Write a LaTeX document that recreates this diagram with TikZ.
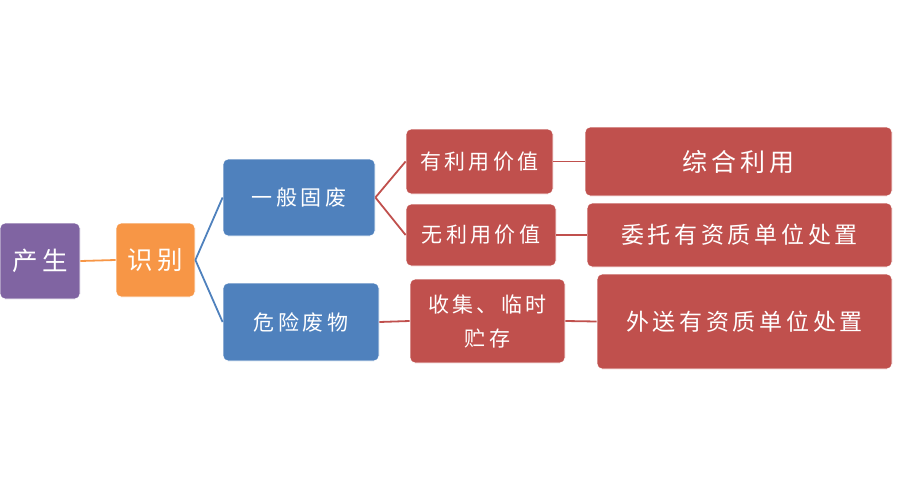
\documentclass[tikz,border=0pt]{standalone}
\usepackage{fontspec}
\usepackage{tikz}
\usetikzlibrary{positioning}
\newfontfamily\cjk{Noto Sans CJK SC}[LetterSpace=16]
\definecolor{plum}{RGB}{128,100,162}
\definecolor{amber}{RGB}{247,150,70}
\definecolor{steel}{RGB}{79,129,189}
\definecolor{brick}{RGB}{192,80,77}

\begin{document}
\begin{tikzpicture}[
  x=1pt, y=-1pt,
  box/.style={draw=white, line width=0.8pt, rounded corners=5pt, inner sep=2pt,
              text=white, align=center,
              font=\cjk\fontsize{21}{27}\selectfont},
  src/.style={box, fill=plum, font=\cjk\fontsize{25.5}{28}\selectfont},
  idf/.style={box, fill=amber, font=\cjk\fontsize{25.5}{28}\selectfont},
  kind/.style={box, fill=steel},
  way/.style={box, fill=brick},
  big/.style={way, font=\cjk\fontsize{23}{28}\selectfont},
  link/.style={line width=1.8pt}]

  \useasboundingbox (0,0) rectangle (900,498);

  \node[src, minimum width=80pt, minimum height=76pt] (sheng) at (40, 261) {产生};
  \node[idf, minimum width=79pt, minimum height=74pt] (shibie) at (155.5, 260) {识别};

  \node[kind, minimum width=152pt, minimum height=77pt] (yiban) at (299, 197.5) {一般固废};
  \node[kind, minimum width=156pt, minimum height=78pt] (weixian) at (301, 322) {危险废物};

  \node[way, minimum width=147pt, minimum height=65pt] (youli) at (479.5, 161.5) {有利用价值};
  \node[way, minimum width=150pt, minimum height=62pt] (wuli) at (481, 235) {无利用价值};
  \node[way, minimum width=155pt, minimum height=84pt,
        font=\cjk\fontsize{21}{34}\selectfont] (shouji) at (487.5, 321) {收集、临时\\贮存};

  \node[big, minimum width=307pt, minimum height=69pt,
        font=\cjk\fontsize{25}{28}\selectfont] (zonghe) at (738.5, 161.5) {综合利用};
  \node[big, minimum width=305pt, minimum height=64pt] (weituo) at (739.5, 235) {委托有资质单位处置};
  \node[big, minimum width=295pt, minimum height=95pt] (waisong) at (744.5, 321.5) {外送有资质单位处置};

  \draw[link, amber] (sheng.east) -- (shibie.west);

  \draw[link, steel] (shibie.east) -- (yiban.west);
  \draw[link, steel] (shibie.east) -- (weixian.west);

  \draw[link, brick] (yiban.east) -- (youli.west);
  \draw[link, brick] (yiban.east) -- (wuli.west);
  \draw[link, brick] (weixian.east) -- (shouji.west);

  \draw[link, brick] (youli.east) -- (zonghe.west);
  \draw[link, brick] (wuli.east) -- (weituo.west);
  \draw[link, brick] (shouji.east) -- (waisong.west);
\end{tikzpicture}
\end{document}
